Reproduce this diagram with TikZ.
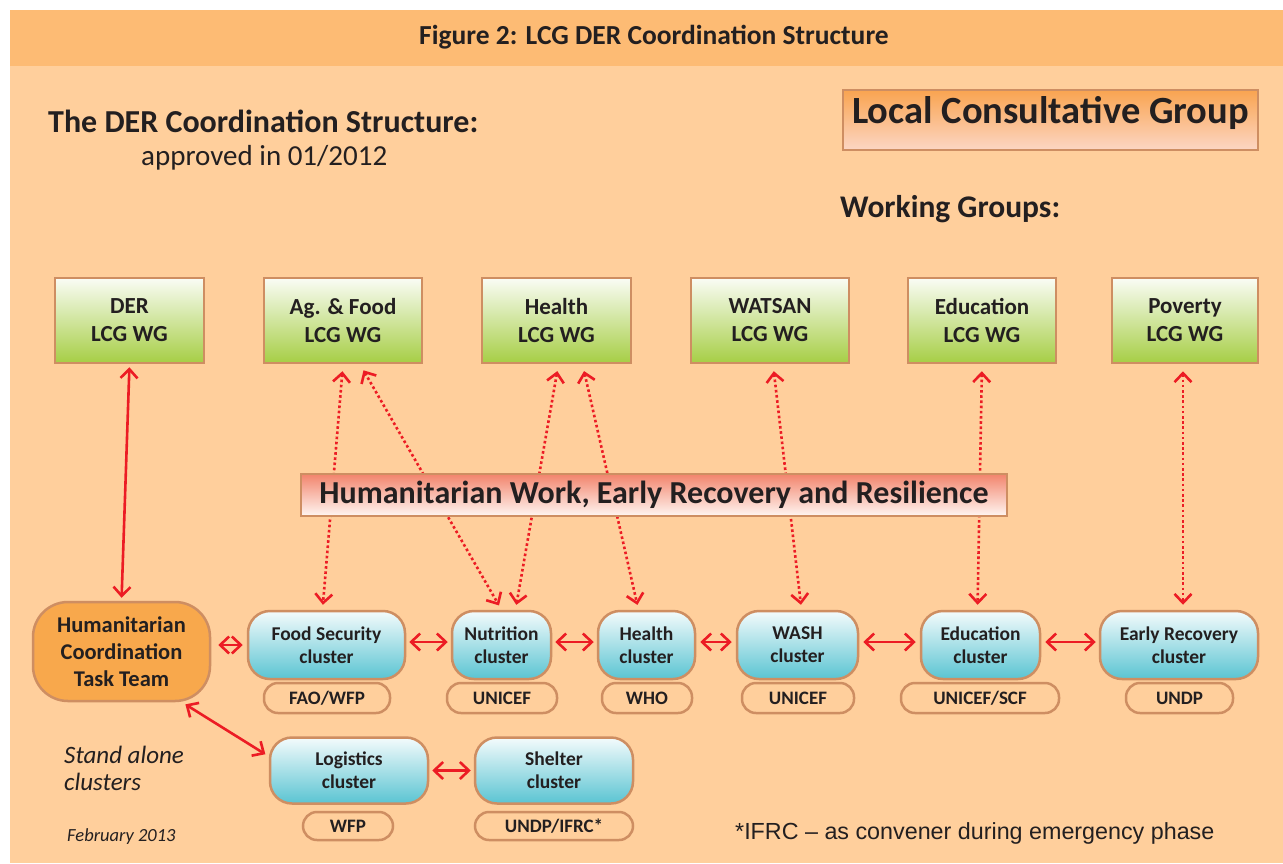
\documentclass[tikz,border=0pt]{standalone}
\usepackage{fontspec}
\setmainfont{Carlito}
\newfontfamily\arialfont{Liberation Sans}
\usetikzlibrary{arrows.meta}
\definecolor{bgbody}{RGB}{255,207,156}
\definecolor{bghead}{RGB}{253,187,116}
\definecolor{tanline}{RGB}{206,142,98}
\definecolor{ink}{RGB}{35,31,32}
\definecolor{wgtop}{RGB}{250,252,245}
\definecolor{wgbot}{RGB}{166,206,69}
\definecolor{cltop}{RGB}{244,251,252}
\definecolor{clbot}{RGB}{90,196,210}
\definecolor{lcgtop}{RGB}{249,164,80}
\definecolor{lcgbot}{RGB}{252,214,196}
\definecolor{hwtop}{RGB}{242,132,108}
\definecolor{hwbot}{RGB}{255,246,242}
\definecolor{hctt}{RGB}{248,168,76}
\definecolor{linkred}{RGB}{236,28,36}

\begin{document}
\begin{tikzpicture}[x=1pt,y=-1pt,
  wgbox/.style={draw=tanline,line width=2.5pt,top color=wgtop,bottom color=wgbot,
    minimum width=#1,minimum height=85pt,inner sep=0pt,align=center,text=ink,
    font=\fontsize{23}{28}\selectfont\bfseries},
  clbox/.style={draw=tanline,line width=2.5pt,top color=cltop,bottom color=clbot,
    rounded corners=22pt,minimum width=#1,minimum height=68pt,inner sep=0pt,align=center,text=ink,
    font=\fontsize{19.5}{23}\selectfont\bfseries},
  lead/.style={draw=tanline,line width=2.5pt,rounded corners=14pt,
    minimum width=#1,minimum height=30pt,inner sep=0pt,text=ink,
    font=\fontsize{19}{20}\selectfont\bfseries},
  link/.style={linkred,line width=2.6pt,{Straight Barb[length=9pt,width=17pt]}-{Straight Barb[length=9pt,width=17pt]}},
  dotlink/.style={link,dash pattern=on 2.6pt off 2.6pt},
]
\useasboundingbox (0,0) rectangle (1283,863);
\fill[bgbody] (10,10) rectangle (1283,863);
\fill[bghead] (10,10) rectangle (1283,66);
\node[text=ink,font=\fontsize{27.5}{30}\selectfont\bfseries] (title) at (654,37) {Figure 2: LCG DER Coordination Structure};

% headings
\node[text=ink,anchor=west,inner sep=0pt,font=\fontsize{32}{34}\selectfont\bfseries] (struct) at (48,121) {The DER Coordination Structure:};
\node[text=ink,anchor=west,inner sep=0pt,font=\fontsize{29}{32}\selectfont] (approved) at (141,158) {approved in 01/2012};
\node[draw=tanline,line width=2pt,top color=lcgtop,bottom color=lcgbot,minimum width=415pt,minimum height=60pt,
  text depth=20pt,text=ink,font=\fontsize{38.5}{40}\selectfont\bfseries] (lcg) at (1050.5,120) {Local Consultative Group};
\node[text=ink,anchor=west,inner sep=0pt,font=\fontsize{31.5}{34}\selectfont\bfseries] (wgs) at (840,209) {Working Groups:};

% working groups
\node[wgbox=149pt] (der) at (129.5,320.5) {DER\\LCG WG};
\node[wgbox=158pt] (ag) at (343,320.5) {Ag. \& Food\\LCG WG};
\node[wgbox=149pt] (hwg) at (556.5,320.5) {Health\\LCG WG};
\node[wgbox=158pt] (watsan) at (770,320.5) {WATSAN\\LCG WG};
\node[wgbox=148pt] (edwg) at (982,320.5) {Education\\LCG WG};
\node[wgbox=146pt] (pov) at (1185,320.5) {Poverty\\LCG WG};

% clusters
\node[draw=tanline,line width=2.5pt,fill=hctt,rounded corners=35pt,minimum width=177pt,minimum height=99pt,
  inner sep=0pt,align=center,text=ink,font=\fontsize{22.5}{27}\selectfont\bfseries] (team) at (121.5,651.5) {Humanitarian\\Coordination\\Task Team};
\node[clbox=157pt] (fs) at (326.5,645) {Food Security\\cluster};
\node[clbox=99pt] (nut) at (501.5,645) {Nutrition\\cluster};
\node[clbox=97pt] (hcl) at (646.5,645) {Health\\cluster};
\node[clbox=121pt] (wash) at (797.5,645) {WASH\\cluster};
\node[clbox=119pt] (edcl) at (980.5,645) {Education\\cluster};
\node[clbox=158pt] (er) at (1179,645) {Early Recovery\\cluster};
\node[clbox=158pt,minimum height=66pt] (log) at (349,770.5) {Logistics\\cluster};
\node[clbox=158pt,minimum height=66pt] (shel) at (554,770.5) {Shelter\\cluster};

% lead agencies
\node[lead=126pt] (fsl) at (327,698) {FAO/WFP};
\node[lead=110pt] (nutl) at (502,698) {UNICEF};
\node[lead=90pt] (hcll) at (647,698) {WHO};
\node[lead=112pt] (washl) at (798,698) {UNICEF};
\node[lead=158pt] (edl) at (980,698) {UNICEF/SCF};
\node[lead=107pt] (erl) at (1179.5,698) {UNDP};
\node[lead=90pt,minimum height=28pt] (logl) at (348,826) {WFP};
\node[lead=158pt,minimum height=28pt] (shell) at (554,826) {UNDP/IFRC*};

% links
\draw[link,shorten <=3pt,shorten >=3pt] (der.south) -- (team.north);
\draw[link,shorten <=7pt,shorten >=4pt] (team.east |- fs.west) -- (fs.west);
\draw[link,shorten <=3pt,shorten >=3pt] ([yshift=3]fs.east) -- ([yshift=3]nut.west);
\draw[link,shorten <=3pt,shorten >=3pt] ([yshift=3]nut.east) -- ([yshift=3]hcl.west);
\draw[link,shorten <=4pt,shorten >=4pt] ([yshift=3]hcl.east) -- ([yshift=3]wash.west);
\draw[link,shorten <=4pt,shorten >=4pt] ([yshift=3]wash.east) -- ([yshift=3]edcl.west);
\draw[link,shorten <=4pt,shorten >=3pt] ([yshift=3]edcl.east) -- ([yshift=3]er.west);
\draw[link,shorten <=3pt,shorten >=3pt] (log.east) -- (shel.west);
\draw[link,shorten <=4pt,shorten >=4pt] (team.-40) -- (log.170);

\draw[dotlink,shorten <=7pt,shorten >=5pt] (ag.south) -- ([xshift=-4]fs.north);
\draw[dotlink,shorten <=7pt,shorten >=5pt] ([xshift=17]ag.south) -- (nut.north);
\draw[dotlink,shorten <=7pt,shorten >=5pt] ([xshift=2]hwg.south) -- ([xshift=14]nut.north);
\draw[dotlink,shorten <=7pt,shorten >=5pt] ([xshift=26]hwg.south) -- ([xshift=-8]hcl.north);
\draw[dotlink,shorten <=7pt,shorten >=5pt] ([xshift=3]watsan.south) -- ([xshift=4]wash.north);
\draw[dotlink,shorten <=7pt,shorten >=5pt] (edwg.south) -- ([xshift=-3]edcl.north);
\draw[dotlink,shorten <=7pt,shorten >=5pt] ([xshift=-2]pov.south) -- ([xshift=4]er.north);

% band across the dotted links
\node[draw=tanline,line width=2pt,top color=hwtop,bottom color=hwbot,minimum width=706pt,minimum height=42pt,
  inner sep=0pt,text=ink,font=\fontsize{32}{34}\selectfont\bfseries] (hw) at (654,495) {Humanitarian Work, Early Recovery and Resilience};

% notes
\node[text=ink,anchor=north west,inner sep=0pt,align=left,font=\fontsize{25}{27}\selectfont\itshape] (alone) at (64,746) {Stand alone\\clusters};
\node[text=ink,anchor=west,inner sep=0pt,font=\fontsize{18.5}{20}\selectfont\itshape] (date) at (67,837) {February 2013};
\node[text=ink,anchor=west,inner sep=0pt,font=\arialfont\fontsize{23.3}{25}\selectfont] (ifrc) at (735,833) {*IFRC – as convener during emergency phase};
\end{tikzpicture}
\end{document}
